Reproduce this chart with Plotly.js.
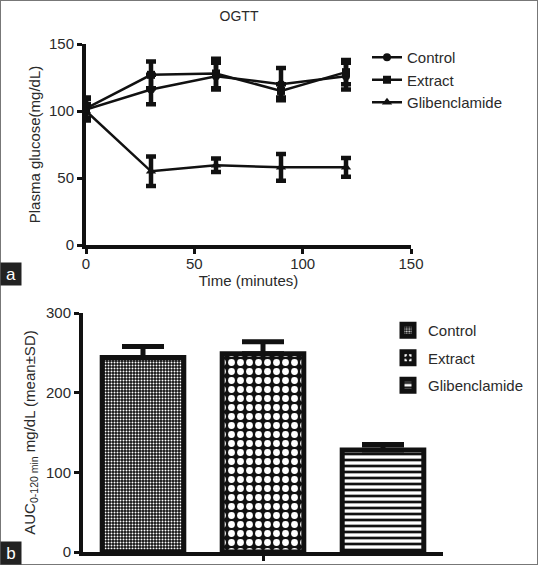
<!DOCTYPE html>
<html>
<head>
<meta charset="utf-8">
<script src="https://cdn.plot.ly/plotly-3.0.1.min.js"></script>
<style>html,body{margin:0;padding:0;background:#fff;}#chart{width:538px;height:565px;}</style>
</head>
<body>
<div id="chart"></div>
<script>
// ---- data (a) OGTT ----
const timeMin = [0, 30, 60, 90, 120];
const controlMean = [101, 116, 126, 120, 126];
const controlSD   = [8, 11, 10, 12, 10];
const extractMean = [102, 127, 128, 115, 129];
const extractSD   = [8, 10, 11, 5, 9];
const glibMean    = [100, 55, 59.5, 58, 58];
const glibSD      = [5, 11, 5, 10, 7];

// ---- data (b) AUC ----
const groups  = ['Control', 'Extract', 'Glibenclamide'];
const aucMean = [244, 249, 128];
const aucSD   = [14, 15, 7];

const txt = '#2a2a2a';
const font = {family: 'Liberation Sans, Arial, sans-serif', size: 15, color: txt};

function lineTrace(name, y, sd, symbol, msize) {
  return {
    type: 'scatter', mode: 'lines+markers', name: name,
    x: timeMin, y: y,
    error_y: {type: 'data', array: sd, visible: true, color: '#111', thickness: 4.5, width: 5},
    line: {color: '#111', width: 2.5},
    marker: {symbol: symbol, size: msize, color: '#111'},
    xaxis: 'x', yaxis: 'y', legend: 'legend'
  };
}

const patterns = [
  {shape: '.', fgcolor: '#ffffff', bgcolor: '#111111', size: 3, solidity: 0.35},
  {shape: '.', fgcolor: '#ffffff', bgcolor: '#111111', size: 9, solidity: 0.45},
  {shape: '-', fgcolor: '#111111', bgcolor: '#ffffff', size: 6, solidity: 0.45}
];

const barTraces = groups.map((g, i) => ({
  type: 'bar', name: g, x: [g], y: [aucMean[i]],
  width: 0.68, legendgroup: 'g' + i,
  marker: {color: '#ffffff', pattern: patterns[i], line: {color: '#111', width: 5}},
  error_y: {type: 'data', symmetric: false, array: [aucSD[i]], arrayminus: [0], visible: true, color: '#111', thickness: 5, width: 21},
  xaxis: 'x2', yaxis: 'y2', legend: 'legend2'
}));

const data = [
  lineTrace('Control', controlMean, controlSD, 'circle', 8),
  lineTrace('Extract', extractMean, extractSD, 'square', 8),
  lineTrace('Glibenclamide', glibMean, glibSD, 'triangle-up', 9),
  ...barTraces
];

const axBase = {
  showline: true, linewidth: 4, linecolor: '#111', showgrid: false, zeroline: false,
  ticks: 'outside', ticklen: 5, tickwidth: 3, tickcolor: '#111',
  tickfont: font
};

const layout = {
  width: 538, height: 565,
  margin: {l: 0, r: 0, t: 0, b: 0},
  paper_bgcolor: '#fff', plot_bgcolor: '#fff',
  font: font,
  showlegend: true,
  title: {text: 'OGTT', font: {family: font.family, size: 14, color: txt}, x: 239/538, xanchor: 'center', y: 1 - 16/565, yanchor: 'middle'},
  xaxis: Object.assign({}, axBase, {
    domain: [86/538, 411/538], range: [0, 150], tickvals: [0, 50, 100, 150],
    anchor: 'y', ticklabelstandoff: -3,
    title: {text: 'Time (minutes)', font: font, standoff: 2}
  }),
  yaxis: Object.assign({}, axBase, {
    domain: [(565-245)/565, (565-44)/565], range: [0, 150], tickvals: [0, 50, 100, 150],
    anchor: 'x',
    title: {text: 'Plasma glucose(mg/dL)', font: font, standoff: 6}
  }),
  xaxis2: Object.assign({}, axBase, {
    domain: [83/538, 443/538], type: 'category', range: [-0.5, 2.5],
    tickvals: ['Extract'], showticklabels: false, anchor: 'y2'
  }),
  yaxis2: Object.assign({}, axBase, {
    domain: [(565-552)/565, (565-313)/565], range: [0, 300], tickvals: [0, 100, 200, 300],
    anchor: 'x2',
    title: {text: 'AUC<sub>0-120 min</sub> mg/dL (mean±SD)', font: font, standoff: 8}
  }),
  legend: {
    x: 367/538, y: 1 - 41/565, xanchor: 'left', yanchor: 'top',
    bgcolor: 'rgba(0,0,0,0)', font: font, itemwidth: 30, tracegroupgap: 0
  },
  legend2: {
    x: 388/538, y: 1 - 314/565, xanchor: 'left', yanchor: 'top',
    bgcolor: 'rgba(0,0,0,0)', font: font, itemwidth: 30, tracegroupgap: 5
  },
  shapes: [
    {type: 'rect', xref: 'paper', yref: 'paper', x0: 0, x1: 1, y0: 0, y1: 1, line: {color: '#777', width: 2}, fillcolor: 'rgba(0,0,0,0)'}
  ],
  annotations: [
    {text: 'a', xref: 'paper', yref: 'paper', x: 0, y: 1 - 262/565, xanchor: 'left', yanchor: 'top', showarrow: false,
     bgcolor: '#222', font: {family: font.family, size: 17, color: '#fff'}, width: 20, height: 22, borderpad: 0},
    {text: 'b', xref: 'paper', yref: 'paper', x: 0, y: 0, xanchor: 'left', yanchor: 'bottom', showarrow: false,
     bgcolor: '#222', font: {family: font.family, size: 17, color: '#fff'}, width: 20, height: 22, borderpad: 0}
  ]
};

Plotly.newPlot('chart', data, layout, {displayModeBar: false, staticPlot: true});
</script>
</body>
</html>
